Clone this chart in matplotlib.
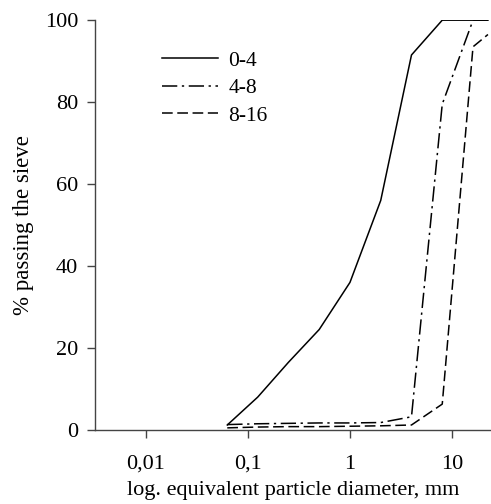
import matplotlib
matplotlib.use("Agg")
import matplotlib.pyplot as plt

plt.rcParams['font.family'] = ['Liberation Serif', 'DejaVu Serif']

# sieve sizes, mm
d_04 = [0.063, 0.125, 0.25, 0.5, 1, 2, 4, 8, 16, 22.4]
p_04 = [1.2, 8, 16.5, 24.5, 36, 56, 91.5, 100, 100, 100]

d_48 = [0.063, 0.125, 0.25, 0.5, 1, 2, 4, 8, 16, 22.4]
p_48 = [1.3, 1.5, 1.6, 1.7, 1.7, 1.8, 3.2, 79.5, 100, 100]

d_816 = [0.063, 0.125, 0.25, 0.5, 1, 2, 4, 8, 16, 22.4]
p_816 = [0.5, 0.7, 0.8, 0.8, 0.9, 1.0, 1.2, 6.3, 93.5, 96.5]

xticks = [0.01, 0.1, 1, 10]
xticklabels = ['0,01', '0,1', '1', '10']
yticks = [0, 20, 40, 60, 80, 100]

fig = plt.figure(figsize=(4.91, 5.04), dpi=100)
ax = fig.add_axes([0.193, 0.147, 0.807, 0.813])

ax.plot(d_04, p_04, color='black', lw=1.1, ls='-', label='0-4')
ax.plot(d_48, p_48, color='black', lw=1.1, ls=(0, (10, 3, 1.5, 3)), label='4-8')
ax.plot(d_816, p_816, color='black', lw=1.1, ls=(0, (7, 3)), label='8-16')

ax.set_xscale('log')
ax.set_xlim(0.00318, 24)
ax.set_ylim(0, 100)
ax.set_xticks(xticks)
ax.set_xticklabels(xticklabels)
ax.minorticks_off()
ax.set_yticks(yticks)

for s in ['top', 'right']:
    ax.spines[s].set_visible(False)
for s in ['left', 'bottom']:
    ax.spines[s].set_color('#444444')
    ax.spines[s].set_linewidth(1.0)

ax.tick_params(direction='out', length=6, width=1, color='#444444', labelsize=16, pad=6)
ax.tick_params(axis='x', pad=12)

ax.set_xlabel('log. equivalent particle diameter, mm', fontsize=16, labelpad=5)
ax.set_ylabel('% passing the sieve', fontsize=16.5, labelpad=8)

ax.legend(loc='upper left', bbox_to_anchor=(0.12, 0.973), frameon=False,
          fontsize=15.5, handlelength=2.6, handletextpad=0.5, labelspacing=0.35)

fig.savefig('out.png', dpi=100)
